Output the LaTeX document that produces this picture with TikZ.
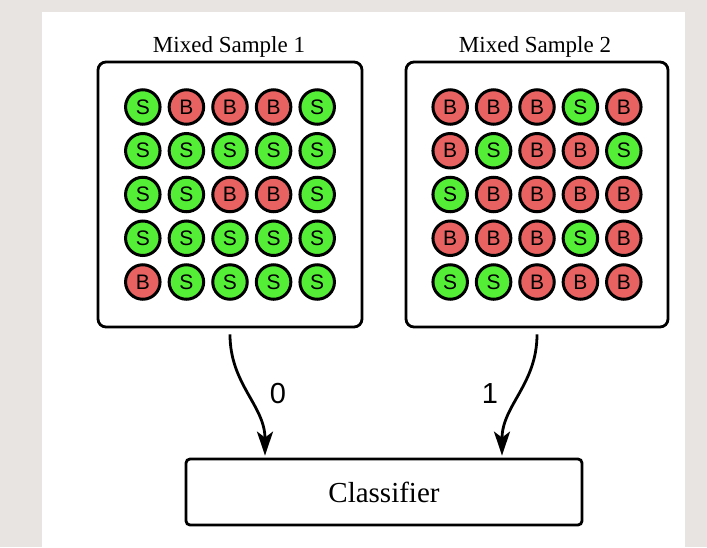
\documentclass[tikz,border=0pt]{standalone}
\usepackage{fontspec}
\setmainfont{Liberation Serif}
\newfontfamily\sansf{Liberation Sans}
\usetikzlibrary{arrows.meta,calc}
\definecolor{bgc}{RGB}{231,228,225}
\definecolor{sgreen}{RGB}{84,238,54}
\definecolor{bred}{RGB}{233,98,98}
\tikzset{
  panel/.style={draw=black, line width=2.8pt, rounded corners=8pt, fill=white, inner sep=0pt},
  clfbox/.style={draw=black, line width=2.8pt, rounded corners=4pt, fill=white, minimum width=396pt, minimum height=66pt, inner sep=0pt, font=\fontsize{29}{34}\selectfont},
  ball/.style={circle, draw=black, line width=3pt, minimum size=34.5pt, inner sep=0pt, font=\sansf\fontsize{21}{24}\selectfont},
  ballS/.style={fill=sgreen},
  ballB/.style={fill=bred},
  ttl/.style={inner sep=0pt, font=\fontsize{23}{27}\selectfont},
  lbl/.style={inner sep=0pt, font=\sansf\fontsize{29}{34}\selectfont},
  conn/.style={line width=2.8pt, -{Stealth[length=24pt,width=16pt,inset=6pt]}}
}
\begin{document}
\begin{tikzpicture}[x=1pt,y=-1pt]
\fill[bgc] (0,0) rectangle (707,547);
\fill[white] (42,12) rectangle (685,547);
\useasboundingbox (0,0) rectangle (707,547);

\node[panel, minimum width=264pt, minimum height=265pt] (lbox) at (230,194.5) {};
\node[panel, minimum width=262pt, minimum height=265pt] (rbox) at (537,194.5) {};
\node[clfbox] (clf) at (384,492) {Classifier};

\node[ttl, anchor=base] (t1) at (229,52) {Mixed Sample 1};
\node[ttl, anchor=base] (t2) at (535,52) {Mixed Sample 2};

\foreach \row [count=\r] in {{S,B,B,B,S},{S,S,S,S,S},{S,S,B,B,S},{S,S,S,S,S},{B,S,S,S,S}}{
  \foreach \c [count=\k] in \row {
    \node[ball, ball\c] (L\r\k) at ($(lbox.center)+({(\k-3)*43.6},{(\r-3)*43.75})$) {\c};
  }
}
\foreach \row [count=\r] in {{B,B,B,S,B},{B,S,B,B,S},{S,B,B,B,B},{B,B,B,S,B},{S,S,B,B,B}}{
  \foreach \c [count=\k] in \row {
    \node[ball, ball\c] (R\r\k) at ($(rbox.center)+({(\k-3)*43.4},{(\r-3)*43.75})$) {\c};
  }
}

\draw[conn] ($(lbox.south)+(0,6)$) .. controls +(0,50) and +(0,-50) .. ($(clf.north)+(-119,-2)$);
\draw[conn] ($(rbox.south)+(0,6)$) .. controls +(0,50) and +(0,-50) .. ($(clf.north)+(118,-2)$);

\node[lbl, anchor=base] (l0) at (278,403) {0};
\node[lbl, anchor=base] (l1) at (490,403) {1};
\end{tikzpicture}
\end{document}
